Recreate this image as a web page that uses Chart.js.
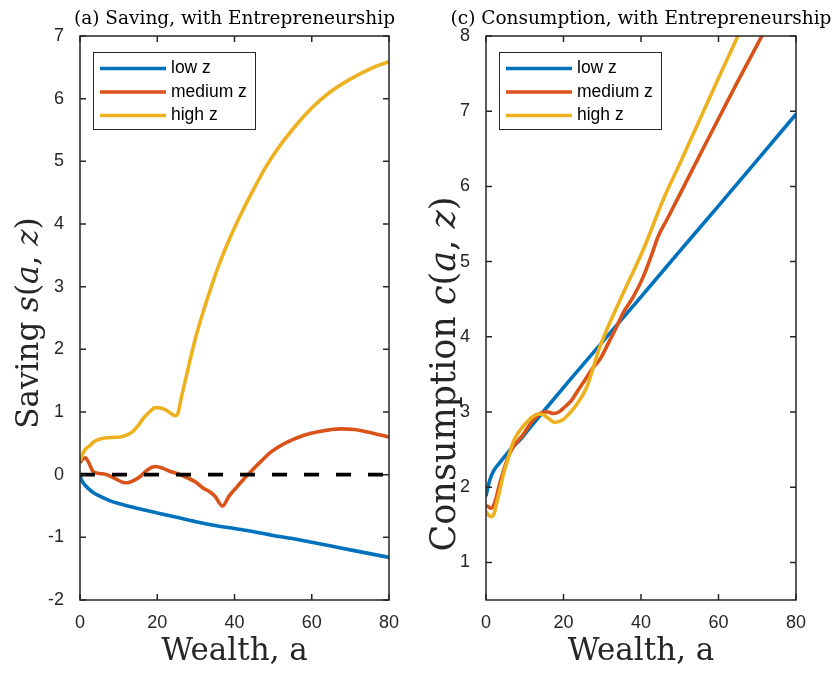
<!DOCTYPE html>
<html><head><meta charset="utf-8">
<script src="https://cdn.jsdelivr.net/npm/chart.js@4.4.1/dist/chart.umd.min.js"></script>
<style>
html,body{margin:0;padding:0;background:#fff;}
#wrap{position:relative;width:838px;height:673px;}
canvas{position:absolute;top:0;}
</style>
</head><body>
<div id="wrap">
<canvas id="c1" width="419" height="673" style="left:0"></canvas>
<canvas id="c2" width="419" height="673" style="left:419px"></canvas>
</div>
<script>
// ---- labels & ticks ----
const seriesNames = ['low z', 'medium z', 'high z'];
const seriesColors = ['#0072BD', '#D95319', '#EDB120'];
const wealthTicks = [0, 20, 40, 60, 80];
const savingTicks = [-2, -1, 0, 1, 2, 3, 4, 5, 6, 7];
const consTicks = [1, 2, 3, 4, 5, 6, 7, 8];
const savingTitle = '(a) Saving, with Entrepreneurship';
const consTitle = '(c) Consumption, with Entrepreneurship';
const xTitle = 'Wealth, a';

// ---- (a) saving s(a,z) ----
const savLowA = [0,0.3,0.8,1.5,2.5,3.5,5,7.5,10,15,20,25,30,35,40,45,50,55,60,65,70,75,80];
const savLowS = [0,-0.07,-0.13,-0.18,-0.24,-0.29,-0.34,-0.41,-0.46,-0.54,-0.61,-0.68,-0.75,-0.81,-0.86,-0.91,-0.97,-1.02,-1.08,-1.14,-1.2,-1.26,-1.32];

const savMedA = [0,0.7,1.4,2.2,3.4,5,7,9,11,12.3,14,15.6,17.5,19.5,21.5,23.4,25.5,27.8,30,32,33.5,35,36.9,38.5,40.7,42.7,44.7,47,49.4,53,58,62,67.5,71,75.3,80];
const savMedS = [0.19,0.25,0.27,0.2,0.05,0.02,0.0,-0.06,-0.12,-0.13,-0.09,-0.03,0.08,0.13,0.1,0.05,0.01,-0.05,-0.12,-0.22,-0.27,-0.35,-0.5,-0.35,-0.19,-0.05,0.08,0.22,0.36,0.5,0.63,0.69,0.73,0.72,0.67,0.6];

const savHighA = [0,0.5,1.3,2.5,3.5,5.2,7,10.4,12,13.5,15,16.4,18,19.5,21.6,23,24.7,25.3,26.3,27.3,28,30,32,34,36,38,40,42,45,48,52,56,60,64,68,72,76,80];
const savHighS = [0.22,0.3,0.4,0.46,0.52,0.57,0.59,0.6,0.63,0.68,0.78,0.9,1.0,1.07,1.05,1.0,0.94,0.97,1.25,1.51,1.7,2.2,2.62,3.0,3.35,3.66,3.94,4.2,4.56,4.9,5.27,5.58,5.85,6.07,6.24,6.38,6.5,6.59];

const zeroA = [0, 80];
const zeroS = [0, 0];

// ---- (c) consumption c(a,z) ----
const consLowA = [0,0.5,1,2,3.6,5,7,8.8,11,13.1,16,20.9,30,40,50,60,70,80];
const consLowC = [1.88,2.0,2.1,2.22,2.33,2.42,2.54,2.63,2.77,2.9,3.08,3.38,3.93,4.53,5.14,5.74,6.35,6.96];

const consMedA = [0,0.6,1.3,2.3,3.3,4.4,5.7,7,8.3,9.6,11.8,13.5,14.8,16,17.3,18.8,20.4,22,23.4,25.6,27.5,29.4,32,33.6,35.4,38,40.6,42.8,44.4,46.7,49.3,55,60,65,71.2,80];
const consMedC = [1.76,1.74,1.72,1.8,2.0,2.2,2.4,2.53,2.62,2.7,2.87,2.96,3.0,3.0,2.98,3.0,3.07,3.15,3.26,3.43,3.58,3.7,3.96,4.12,4.32,4.53,4.8,5.1,5.33,5.56,5.82,6.4,6.9,7.4,8.0,8.85];

const consHighA = [0,0.6,1.3,2,2.8,3.6,4.5,5.4,7,8.3,9.6,12.1,13.2,14.4,16,17.8,19.9,21.5,23.4,26,29.4,34.6,40.6,45.7,50,55,60,65,80];
const consHighC = [1.68,1.63,1.61,1.64,1.8,1.97,2.17,2.33,2.6,2.72,2.81,2.94,2.97,2.97,2.92,2.86,2.9,2.98,3.1,3.33,3.87,4.49,5.16,5.82,6.3,6.87,7.44,8.0,9.7];

// ---- helpers ----
const AX = '#262626';
const SERIF = '"DejaVu Serif", "Liberation Serif", serif';
const SANS = '"Liberation Sans", Arial, Helvetica, sans-serif';
const pts = (xs, ys) => xs.map((x, i) => ({x: x, y: ys[i]}));

function line(label, color, xs, ys, order) {
  return {label: label, data: pts(xs, ys), borderColor: color, backgroundColor: color,
    borderWidth: 3.6, pointRadius: 0, cubicInterpolationMode: 'monotone', order: order};
}

function drawMixed(ctx, segs, size) {
  let w = 0;
  segs.forEach(s => { ctx.font = (s[1] ? 'italic ' : '') + size + 'px ' + SERIF; w += ctx.measureText(s[0]).width; });
  let u = -w / 2;
  segs.forEach(s => { ctx.font = (s[1] ? 'italic ' : '') + size + 'px ' + SERIF; ctx.fillText(s[0], u, 0); u += ctx.measureText(s[0]).width; });
}

function deco(o) {
  return {
    id: 'deco',
    afterDraw(chart) {
      const ctx = chart.ctx, a = chart.chartArea, xs = chart.scales.x, ys = chart.scales.y;
      ctx.save();
      ctx.strokeStyle = AX; ctx.lineWidth = 1.5;
      ctx.beginPath();
      wealthTicks.forEach(v => { const p = xs.getPixelForValue(v);
        ctx.moveTo(p, a.bottom); ctx.lineTo(p, a.bottom - 6); ctx.moveTo(p, a.top); ctx.lineTo(p, a.top + 6); });
      o.yTicks.forEach(v => { const p = ys.getPixelForValue(v);
        ctx.moveTo(a.left, p); ctx.lineTo(a.left + 6, p); ctx.moveTo(a.right, p); ctx.lineTo(a.right - 6, p); });
      ctx.stroke();
      ctx.strokeRect(a.left, a.top, a.right - a.left, a.bottom - a.top);
      // legend
      const lx = Math.round(a.left + 13), ly = Math.round(a.top + 16), lw = 162, lh = 77;
      ctx.fillStyle = '#fff'; ctx.fillRect(lx, ly, lw, lh);
      ctx.lineWidth = 1; ctx.strokeStyle = AX; ctx.strokeRect(lx + 0.5, ly + 0.5, lw, lh);
      chart.data.datasets.slice(0, 3).forEach((d, i) => {
        const yy = ly + 16.5 + i * 23.5;
        ctx.strokeStyle = d.borderColor; ctx.lineWidth = 3.6;
        ctx.beginPath(); ctx.moveTo(lx + 7, yy); ctx.lineTo(lx + 73, yy); ctx.stroke();
        ctx.fillStyle = '#000'; ctx.font = '17.5px ' + SANS; ctx.textBaseline = 'middle'; ctx.textAlign = 'left';
        ctx.fillText(d.label, lx + 78, yy);
      });
      // title
      ctx.fillStyle = '#000'; ctx.textAlign = 'center'; ctx.textBaseline = 'middle';
      ctx.font = '18.5px ' + SERIF;
      ctx.fillText(o.title, (a.left + a.right) / 2, 19);
      // y label
      ctx.fillStyle = AX; ctx.textAlign = 'left'; ctx.textBaseline = 'alphabetic';
      ctx.translate(o.ylx, o.yly); ctx.rotate(-Math.PI / 2);
      drawMixed(ctx, o.ylabel, o.ylSize);
      ctx.restore();
    }
  };
}

function makeChart(id, datasets, o) {
  new Chart(document.getElementById(id), {
    type: 'line',
    data: {datasets: datasets},
    options: {
      responsive: false, animation: false, devicePixelRatio: 1,
      layout: {padding: {left: 0, right: o.padRight, top: 36, bottom: 0}},
      plugins: {legend: {display: false}, tooltip: {enabled: false}, title: {display: false}},
      scales: {
        x: {type: 'linear', min: 0, max: 80,
          grid: {display: false}, border: {display: false},
          afterBuildTicks: s => { s.ticks = wealthTicks.map(v => ({value: v})); },
          afterFit: s => { s.height = 73; },
          ticks: {color: AX, font: {family: SANS, size: 18}, padding: 4, maxRotation: 0},
          title: {display: true, text: xTitle, color: AX, font: {family: SERIF, size: 31}, padding: {top: 0, bottom: 2}}
        },
        y: {type: 'linear', min: o.yMin, max: o.yMax,
          grid: {display: false}, border: {display: false},
          afterBuildTicks: s => { s.ticks = o.yTicks.map(v => ({value: v})); },
          afterFit: s => { s.width = o.yAxisW; },
          ticks: {color: AX, font: {family: SANS, size: 18}, padding: 8}
        }
      }
    },
    plugins: [deco(o)]
  });
}

makeChart('c1', [
  line(seriesNames[0], seriesColors[0], savLowA, savLowS, 4),
  line(seriesNames[1], seriesColors[1], savMedA, savMedS, 3),
  line(seriesNames[2], seriesColors[2], savHighA, savHighS, 2),
  {label: 'zero', data: pts(zeroA, zeroS), borderColor: '#000', borderWidth: 3.6, borderDash: [15, 17], pointRadius: 0, order: 1}
], {yMin: -2, yMax: 7, yTicks: savingTicks, yAxisW: 80, padRight: 30, title: savingTitle,
    ylx: 38, yly: 323, ylSize: 31, ylabel: [['Saving ', 0], ['s', 1], ['(', 0], ['a', 1], [', ', 0], ['z', 1], [')', 0]]});

makeChart('c2', [
  line(seriesNames[0], seriesColors[0], consLowA, consLowC, 4),
  line(seriesNames[1], seriesColors[1], consMedA, consMedC, 3),
  line(seriesNames[2], seriesColors[2], consHighA, consHighC, 2)
], {yMin: 0.5, yMax: 8, yTicks: consTicks, yAxisW: 67, padRight: 42, title: consTitle,
    ylx: 36, yly: 374, ylSize: 35, ylabel: [['Consumption ', 0], ['c', 1], ['(', 0], ['a', 1], [', ', 0], ['z', 1], [')', 0]]});
</script>
</body></html>
